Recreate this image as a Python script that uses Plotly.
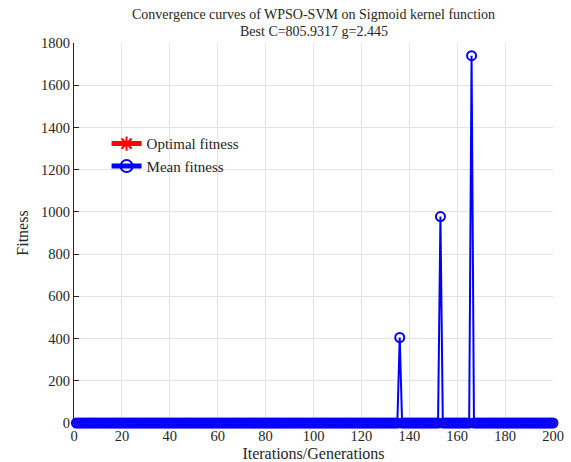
import plotly.graph_objects as go

# Data
iterations = list(range(1, 201))
spike_iters = [136, 153, 166]
spike_values = [405, 978, 1740]
base_mean = 0.0
optimal_fitness = [0.0] * len(iterations)
mean_fitness = [base_mean] * len(iterations)
for it, v in zip(spike_iters, spike_values):
    mean_fitness[it - 1] = v

x_ticks = [0, 20, 40, 60, 80, 100, 120, 140, 160, 180, 200]
y_ticks = [0, 200, 400, 600, 800, 1000, 1200, 1400, 1600, 1800]
title_lines = ["Convergence curves of WPSO-SVM on Sigmoid kernel function",
               "Best C=805.9317 g=2.445"]

FONT = "Liberation Serif, Times New Roman, serif"

fig = go.Figure()
fig.add_trace(go.Scatter(
    x=iterations, y=optimal_fitness, mode="lines+markers",
    name="Optimal fitness",
    line=dict(color="#ff0000", width=2),
    marker=dict(symbol="asterisk", size=8, color="#ff0000",
                line=dict(color="#ff0000", width=2)),
    cliponaxis=False,
))
fig.add_trace(go.Scatter(
    x=iterations, y=mean_fitness, mode="lines+markers",
    name="Mean fitness",
    line=dict(color="#0000ff", width=2),
    marker=dict(symbol="circle-open", size=9, color="#0000ff",
                line=dict(color="#0000ff", width=2)),
    cliponaxis=False,
))

fig.update_layout(
    width=571, height=462,
    margin=dict(l=74, r=18, t=43, b=39, autoexpand=False),
    paper_bgcolor="white", plot_bgcolor="white",
    font=dict(family=FONT, size=14, color="#262626"),
    showlegend=True,
    legend=dict(
        x=0.068, y=0.778, xanchor="left", yanchor="top",
        bgcolor="rgba(255,255,255,0)", borderwidth=0,
        font=dict(family=FONT, size=15, color="#262626"),
        tracegroupgap=0, itemsizing="constant",
    ),
    annotations=[
        dict(text=title_lines[0], x=0.5, y=1, xref="paper", yref="paper",
             xanchor="center", yanchor="middle", yshift=29, showarrow=False,
             font=dict(family=FONT, size=14, color="#262626")),
        dict(text=title_lines[1], x=0.5, y=1, xref="paper", yref="paper",
             xanchor="center", yanchor="middle", yshift=12, showarrow=False,
             font=dict(family=FONT, size=14, color="#262626")),
    ],
)
fig.update_xaxes(
    range=[0, 200], tickvals=x_ticks, ticktext=[str(t) for t in x_ticks],
    showgrid=True, gridcolor="#e3e3e3", gridwidth=1,
    showline=True, linecolor="#262626", linewidth=1, mirror=False,
    ticks="inside", ticklen=5, tickcolor="#262626",
    zeroline=False, tickfont=dict(family=FONT, size=14.5), automargin=False,
    title=dict(text="Iterations/Generations", standoff=5,
               font=dict(family=FONT, size=16)),
)
fig.update_yaxes(
    range=[0, 1800], tickvals=y_ticks, ticktext=[str(t) for t in y_ticks],
    showgrid=True, gridcolor="#e3e3e3", gridwidth=1,
    showline=True, linecolor="#262626", linewidth=1, mirror=False,
    ticks="inside", ticklen=5, tickcolor="#262626",
    zeroline=False, tickfont=dict(family=FONT, size=14.5), automargin=False,
    title=dict(text="Fitness", standoff=8,
               font=dict(family=FONT, size=16)),
)

fig.write_html("out.html")
